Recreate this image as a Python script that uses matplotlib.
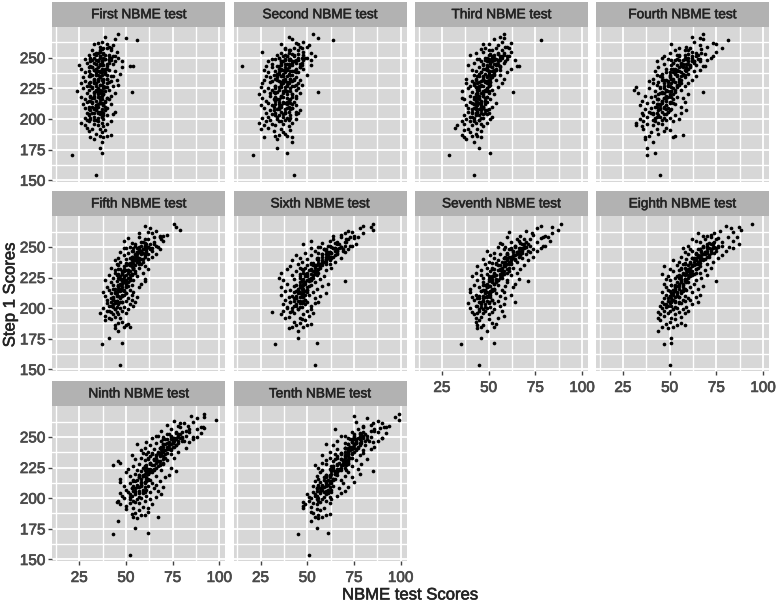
import numpy as np
import matplotlib
matplotlib.use("Agg")
import matplotlib.pyplot as plt
import matplotlib.patheffects as pe

plt.rcParams["font.family"] = ["Liberation Sans", "DejaVu Sans"]

titles = ["First NBME test", "Second NBME test", "Third NBME test", "Fourth NBME test",
          "Fifth NBME test", "Sixth NBME test", "Seventh NBME test", "Eighth NBME test",
          "Ninth NBME test", "Tenth NBME test"]

# Step 1 score per student, same students in every panel
step1 = [154,171,172,176,181,184,185,185,186,186,187,188,189,190,191,
         192,192,193,194,195,195,196,196,197,197,198,198,199,199,200,
         200,201,201,202,202,203,203,204,204,205,205,205,206,206,207,
         207,208,208,209,209,210,210,211,211,212,212,213,213,214,214,
         215,215,216,216,217,217,218,218,219,219,220,220,221,221,222,
         222,223,223,224,224,225,225,226,226,227,227,228,228,229,229,
         230,230,231,231,232,232,233,233,234,234,235,235,236,236,237,
         237,238,238,239,239,240,240,241,241,242,242,243,243,244,244,
         245,245,246,246,247,247,248,248,249,249,250,250,251,251,252,
         247,248,249,250,251,255,252,253,254,254,255,256,256,257,258,
         256,259,258,260,262,261,264,263,265,259,266,261,267,258,269,
         198,201,203,205,206,208,210,211,213,214,216,217,219,220,222,
         199,202,204,205,207,209,210,212,213,215,216,218,219,221,223,
         224,225,226,227,228,229,230,231,232,233,234,235,236,237,238,
         223,225,227,228,229,231,232,233,235,236,237,238,239,240,241,
         239,240,241,242,243,244,245,246,247,248,249,250,251,252,253,
         240,241,242,243,244,245,246,247,248,249,249,250,251,252,254,
         206,209,212,215,218,221,224,227,230,233,236,239,242,245,248,
         208,211,214,217,220,223,226,229,232,235,238,241,244,247,250]

# NBME scores, same order as step1
first = [34,21,37,36,37,33,38,31,40,36,42,34,37,30,39,
         32,36,29,38,28,35,33,40,26,37,30,42,34,29,38,
         31,35,28,37,33,40,30,36,43,32,38,29,35,44,34,
         31,37,33,40,28,35,30,38,34,42,27,36,32,39,29,
         34,30,37,28,40,33,26,36,42,31,38,35,44,29,53,
         33,24,37,30,41,35,27,39,32,43,29,36,46,34,26,
         38,31,42,28,35,45,33,40,27,36,30,43,37,34,47,
         31,39,28,35,44,33,41,26,37,30,48,52,54,36,25,
         34,40,29,37,31,44,35,42,28,38,33,46,36,41,30,
         48,34,39,31,44,36,41,33,38,35,45,42,32,37,40,
         36,41,38,43,35,40,56,37,44,36,50,33,39,42,46,
         35,31,38,33,36,30,39,34,37,32,36,40,33,38,35,
         33,37,30,35,39,34,32,38,36,31,41,35,37,33,39,
         36,32,39,34,37,30,41,35,33,38,36,31,40,34,37,
         34,38,31,36,40,33,37,35,42,32,39,36,30,38,34,
         36,33,40,35,31,38,34,41,37,32,39,36,43,34,38,
         38,34,32,40,36,43,33,37,35,41,31,38,36,39,34,
         37,33,35,39,31,36,34,38,33,40,35,37,32,36,41,
         34,38,36,32,37,35,40,33,38,36,34,39,37,35,42]
second = [43,21,39,34,42,34,42,27,33,39,35,38,37,32,41,
          25,36,29,40,33,27,37,31,24,42,35,28,38,30,44,
          34,39,26,37,29,41,35,31,44,33,38,28,40,36,46,
          30,38,34,27,42,32,36,44,25,39,33,41,29,37,35,
          40,28,35,32,44,26,37,42,30,36,24,39,33,46,56,
          34,27,41,31,38,45,29,36,25,43,33,39,47,26,37,
          30,39,35,42,27,46,33,38,30,44,36,28,41,50,34,
          37,29,44,33,41,27,39,48,35,31,46,15,28,42,52,
          31,40,47,36,29,43,38,52,33,41,45,35,54,39,48,
          37,44,31,50,39,26,34,42,52,36,48,40,45,38,43,
          41,46,38,51,44,36,64,48,42,50,56,45,40,47,53,
          36,41,33,38,44,35,40,31,37,43,34,39,36,42,32,
          40,34,37,45,32,39,35,42,38,33,41,36,44,30,37,
          35,41,38,33,44,36,40,31,37,43,34,39,42,35,38,
          39,33,42,36,45,38,34,41,37,32,40,35,43,38,36,
          42,36,39,46,34,41,38,44,36,48,40,35,43,38,45,
          37,44,40,35,47,39,42,36,45,38,41,49,37,43,40,
          38,42,35,40,33,37,44,39,36,41,34,43,38,46,40,
          41,36,39,33,42,38,35,40,43,37,45,39,36,42,47]
third = [42,29,51,45,42,38,46,37,44,41,36,43,40,46,37,
         44,39,32,47,41,33,46,37,43,49,40,36,45,42,51,
         38,47,42,52,40,45,37,49,43,46,41,50,39,44,48,
         46,41,50,43,39,47,52,44,38,48,42,54,45,40,49,
         43,48,37,51,45,36,49,42,47,40,53,44,50,46,63,
         41,47,36,52,44,49,39,55,43,46,40,50,42,57,38,
         45,51,41,48,54,43,58,38,47,52,44,49,56,42,50,
         53,46,60,43,50,56,41,48,62,52,45,65,66,39,54,
         47,55,42,51,59,46,53,64,44,50,57,48,61,52,40,
         49,56,45,53,60,47,58,51,43,55,62,50,57,46,54,
         52,59,48,55,62,50,78,57,53,60,58,47,56,61,58,
         42,46,43,48,41,45,47,43,46,44,42,48,45,43,47,
         45,41,47,43,49,42,46,44,41,48,45,43,47,44,49,
         45,49,43,47,51,44,48,46,50,43,49,47,52,45,50,
         48,44,50,46,42,49,47,51,45,53,48,46,52,49,54,
         50,54,47,52,56,49,53,51,55,48,54,52,57,50,55,
         53,49,56,51,47,54,58,50,55,52,60,49,56,53,58,
         44,47,42,46,49,44,48,45,51,47,50,53,49,54,52,
         43,46,48,44,47,50,45,49,47,51,53,49,55,52,56]
fourth = [45,38,42,38,41,37,52,37,53,39,57,44,40,47,50,
          43,36,48,35,41,32,46,38,32,44,52,36,48,41,55,
          34,42,50,38,45,36,53,41,47,35,56,43,49,39,59,
          44,37,51,47,40,56,42,48,34,53,45,38,50,58,41,
          46,35,52,43,57,48,40,54,37,50,44,60,47,33,68,
          53,42,48,31,56,45,39,51,32,47,58,43,54,41,60,
          49,44,55,39,62,47,52,41,58,50,45,64,54,43,60,
          46,56,50,63,42,53,66,48,59,44,55,68,69,51,61,
          57,47,63,52,43,60,55,70,49,65,58,46,62,73,54,
          66,51,59,72,47,62,55,69,50,64,75,58,53,67,61,
          60,70,55,66,73,51,81,63,68,59,66,75,62,78,68,
          42,47,44,40,49,45,43,48,46,51,44,47,42,50,46,
          46,43,48,41,50,45,47,43,52,46,44,49,48,45,51,
          48,52,45,50,55,47,53,49,56,51,46,54,50,57,52,
          51,47,54,49,56,52,46,55,50,58,53,48,59,54,51,
          55,59,52,57,61,54,60,56,63,53,58,62,55,65,60,
          58,53,61,56,64,59,52,62,57,66,54,60,64,58,67,
          46,49,44,48,51,46,53,49,55,51,57,54,59,56,62,
          48,45,50,47,52,49,54,51,48,56,53,60,57,63,59]
fifth = [47,37,48,41,46,44,49,52,50,44,51,46,48,39,42,
         47,41,44,39,46,43,50,36,42,45,40,48,44,51,47,
         38,49,43,54,41,46,52,44,40,48,55,42,50,45,53,
         40,47,51,43,56,39,48,53,45,42,50,38,54,46,49,
         41,52,47,44,57,40,50,46,53,43,48,58,42,51,60,
         45,54,39,49,60,43,52,47,56,41,50,46,53,59,44,
         48,55,44,51,62,47,57,42,53,60,46,50,58,45,54,
         52,47,59,55,44,62,50,57,46,64,53,60,49,66,56,
         51,61,56,47,64,54,59,68,49,63,57,52,66,60,55,
         58,63,50,67,55,70,61,53,65,59,49,69,62,51,57,
         60,68,65,72,62,57,79,66,63,70,77,64,60,68,76,
         41,45,43,47,44,42,46,49,45,47,43,48,46,50,48,
         44,42,46,48,43,47,45,50,44,48,46,51,47,49,52,
         47,51,49,45,53,48,52,50,46,54,49,55,51,53,57,
         50,46,53,48,55,51,49,54,52,57,50,56,53,59,55,
         54,58,52,56,60,55,59,57,53,61,56,62,58,63,60,
         57,53,60,55,62,58,56,61,59,64,54,62,60,65,58,
         45,47,44,49,46,50,48,52,49,54,51,56,53,58,57,
         43,48,46,50,47,52,49,51,54,52,56,55,58,57,60]
sixth = [54,33,55,45,45,40,42,48,50,44,52,46,43,49,47,
         38,46,40,51,36,48,43,53,31,41,50,37,45,52,39,
         42,47,39,52,44,49,37,54,46,41,50,56,43,48,38,
         49,44,54,40,47,57,42,51,36,46,60,43,53,38,48,
         41,50,45,55,36,47,58,43,52,48,39,61,46,54,70,
         51,37,47,57,43,53,35,49,59,42,55,46,52,36,50,
         44,54,48,60,39,52,63,46,57,41,50,55,62,45,58,
         53,47,65,42,56,60,50,68,46,58,63,52,44,61,66,
         56,49,62,70,54,66,59,72,52,64,68,57,74,61,48,
         60,69,65,56,73,62,76,58,70,66,52,72,64,75,68,
         71,64,77,68,74,80,85,72,78,75,84,70,80,73,85,
         42,46,44,48,45,43,47,49,46,44,48,50,46,49,47,
         45,43,47,41,49,46,44,48,50,45,47,51,44,49,52,
         48,52,46,50,54,48,53,51,56,49,54,58,52,56,60,
         50,46,53,49,56,52,47,57,54,60,52,58,62,55,63,
         58,62,55,60,65,58,63,61,66,59,64,68,62,67,65,
         60,56,64,61,58,66,62,69,60,65,67,63,70,66,71,
         46,48,45,50,47,49,51,53,55,54,57,60,62,63,66,
         44,47,49,46,48,52,50,54,56,53,59,61,60,65,68]
seventh = [45,35,53,46,49,44,46,53,44,47,54,52,43,45,50,
           43,55,46,58,42,50,44,47,52,41,48,57,45,53,49,
           40,51,46,56,43,58,48,39,53,45,50,64,47,55,42,
           52,45,59,41,49,56,47,62,43,54,50,40,58,46,51,
           48,57,40,53,63,45,51,59,42,55,49,64,47,60,71,
           54,44,60,50,66,47,57,41,53,62,46,56,49,65,43,
           51,61,46,57,67,53,49,63,44,59,55,69,48,62,52,
           58,50,65,55,71,47,62,53,68,59,74,51,64,56,70,
           60,53,72,65,49,76,58,68,62,78,55,70,64,79,57,
           63,74,68,59,80,66,71,56,76,62,83,69,65,78,60,
           72,67,79,74,61,84,87,70,76,80,84,73,78,82,89,
           45,48,46,50,47,44,49,51,48,46,52,49,47,53,50,
           47,44,50,46,52,48,45,51,49,47,53,50,48,54,52,
           52,56,50,54,58,53,57,55,60,52,58,56,61,54,59,
           55,51,57,53,60,56,52,61,58,54,62,57,64,60,63,
           60,64,58,62,67,60,65,63,68,61,66,70,64,69,67,
           62,58,66,63,60,68,65,71,62,67,69,64,72,68,70,
           49,51,48,53,50,52,54,56,58,57,60,62,61,66,68,
           47,50,52,49,53,55,52,57,56,59,61,60,65,66,69]
eighth = [50,47,51,51,44,49,52,46,54,58,48,56,50,45,53,
          51,44,56,47,53,45,58,49,44,55,60,47,52,57,46,
          54,48,59,45,51,62,47,56,50,65,53,46,58,49,61,
          52,60,47,55,64,50,58,48,66,54,51,62,46,57,53,
          49,59,55,65,48,61,53,68,51,57,63,47,60,54,75,
          56,50,64,58,48,67,53,61,49,70,55,63,46,59,66,
          52,60,69,55,64,50,72,58,47,66,62,54,70,57,65,
          61,55,73,66,52,69,59,76,63,56,71,65,78,60,68,
          64,74,58,69,80,62,72,66,84,57,76,68,60,78,70,
          67,61,75,82,70,64,87,73,66,78,84,69,62,76,72,
          75,68,81,72,84,65,88,77,83,70,87,74,80,86,94,
          50,53,48,55,51,49,54,52,56,50,53,57,51,55,58,
          52,49,55,51,57,53,50,56,54,52,58,55,53,59,56,
          56,60,54,58,62,57,61,59,64,56,62,60,65,58,63,
          59,55,62,57,64,60,56,65,62,58,66,61,68,63,67,
          64,68,62,66,71,64,69,67,72,65,70,74,68,73,71,
          66,62,70,67,64,72,69,75,66,71,73,68,76,72,74,
          53,55,52,57,54,56,58,60,62,61,64,66,65,70,72,
          51,54,56,53,57,59,56,61,60,63,65,64,69,70,73]
ninth = [52,43,62,55,46,56,54,67,58,60,53,55,62,57,50,
         62,54,59,50,64,47,57,52,45,55,60,46,63,52,49,
         58,52,66,48,61,55,69,47,57,63,51,60,54,67,50,
         59,65,53,70,56,62,49,66,58,52,64,47,60,55,68,
         54,63,47,58,71,61,52,66,57,73,55,60,50,64,77,
         62,56,69,51,65,59,74,54,67,61,43,57,70,63,47,
         46,68,60,72,55,65,58,76,63,70,53,66,61,74,59,
         67,62,78,70,58,73,65,82,60,75,69,63,77,56,71,
         72,66,84,61,76,69,86,74,64,80,70,88,67,78,73,
         80,70,75,86,66,82,72,90,77,84,69,88,74,92,79,
         84,78,90,72,86,81,98,76,88,83,92,79,85,91,92,
         54,57,52,59,55,53,58,56,60,54,61,57,59,62,58,
         56,53,59,55,61,57,54,60,58,56,62,59,57,63,60,
         62,66,60,64,68,63,67,65,70,62,68,66,71,64,69,
         65,61,68,63,70,66,62,71,68,64,72,67,74,69,73,
         70,74,68,72,77,70,75,73,78,71,76,80,74,79,77,
         72,68,76,73,70,78,75,81,72,77,79,74,82,78,80,
         57,60,58,62,59,61,63,65,67,66,69,71,70,75,77,
         55,58,61,57,62,64,60,66,65,68,70,69,74,75,78]
tenth = [51,45,61,55,52,56,58,54,60,56,62,53,52,57,55,
         48,59,52,48,55,49,62,53,48,57,51,60,55,63,52,
         56,62,51,66,54,60,50,68,57,63,53,59,55,70,58,
         61,55,67,58,72,53,64,60,56,69,63,57,75,62,54,
         59,68,56,64,74,62,70,55,66,60,78,63,57,72,85,
         65,58,71,62,77,56,68,63,74,54,66,60,79,70,58,
         64,72,60,76,68,82,62,74,66,70,58,78,72,65,80,
         68,75,62,80,72,66,84,70,77,86,73,64,81,75,60,
         79,70,85,74,66,88,76,82,72,90,78,84,68,80,75,
         83,75,90,78,70,86,81,92,74,88,84,77,65,89,80,
         86,80,92,84,76,90,99,88,82,94,97,85,75,91,99,
         56,59,54,61,57,55,60,58,62,60,64,59,62,65,63,
         58,55,61,57,63,59,56,62,60,61,65,62,60,66,64,
         66,70,64,68,72,67,71,69,72,66,72,70,74,68,72,
         68,64,71,66,72,69,65,73,71,68,74,70,76,72,75,
         72,76,70,74,78,72,76,74,79,73,77,80,75,79,78,
         74,70,77,75,72,78,76,81,74,78,80,75,82,78,80,
         60,62,60,64,62,65,67,69,71,70,72,73,73,76,78,
         57,61,63,60,65,67,64,69,68,71,72,72,75,76,79]
scores = [first, second, third, fourth, fifth, sixth, seventh, eighth, ninth, tenth]

x_ticks = [25, 50, 75, 100]
y_ticks = [150, 175, 200, 225, 250]

W, H = 778, 608
lefts = [52.3, 233.6, 415, 596]
panel_w = 173
strip_tops = [1.5, 190.7, 380.7]
strip_h = 25.5
panel_h = 155

# the reference text sits between regular and bold
semi = [pe.withStroke(linewidth=0.45, foreground="#333333")]

fig = plt.figure(figsize=(W / 100, H / 100), dpi=100)

for i, title in enumerate(titles):
    row, col = i // 4, i % 4
    top = strip_tops[row] + strip_h
    ax = fig.add_axes([lefts[col] / W, 1 - (top + panel_h) / H, panel_w / W, panel_h / H])
    ax.set_facecolor("#D7D7D7")
    ax.scatter(scores[i], step1, s=7, color="black", linewidths=0, zorder=3)
    ax.set_xlim(10.6, 103.2)
    ax.set_ylim(148.6, 275)

    ax.set_xticks(x_ticks)
    ax.set_yticks(y_ticks)
    ax.set_xticks(np.arange(12.5, 103, 12.5), minor=True)
    ax.set_yticks(np.arange(162.5, 275, 25), minor=True)
    ax.grid(True, which="major", color="white", lw=1.3, zorder=1)
    ax.grid(True, which="minor", color="white", lw=1.0, zorder=1)
    ax.set_axisbelow(True)
    for s in ax.spines.values():
        s.set_visible(False)

    ax.tick_params(which="minor", length=0)
    ax.tick_params(which="major", length=3, width=1, color="#444444",
                   labelcolor="#4A4A4A", labelsize=11, pad=2)
    ax.tick_params(axis="x", bottom=i >= 6, labelbottom=i >= 6, pad=4)
    ax.tick_params(axis="y", left=col == 0, labelleft=col == 0)
    for lab in ax.get_xticklabels() + ax.get_yticklabels():
        lab.set_path_effects([pe.withStroke(linewidth=0.5, foreground="#4A4A4A")])

    strip = fig.add_axes([lefts[col] / W, 1 - top / H, panel_w / W, strip_h / H])
    strip.set_facecolor("#B2B2B2")
    strip.set_xticks([])
    strip.set_yticks([])
    for s in strip.spines.values():
        s.set_visible(False)
    strip.text(0.5, 0.5, title, ha="center", va="center", transform=strip.transAxes,
               fontsize=9.8, color="#222222", path_effects=semi)

fig.text(410 / W, 1 - 595 / H, "NBME test Scores", ha="center", va="center",
         fontsize=12, color="#222222", path_effects=semi)
fig.text(10 / W, 1 - 295 / H, "Step 1 Scores", ha="center", va="center", rotation=90,
         fontsize=12, color="#222222", path_effects=semi)

fig.savefig("out.png", dpi=100)
